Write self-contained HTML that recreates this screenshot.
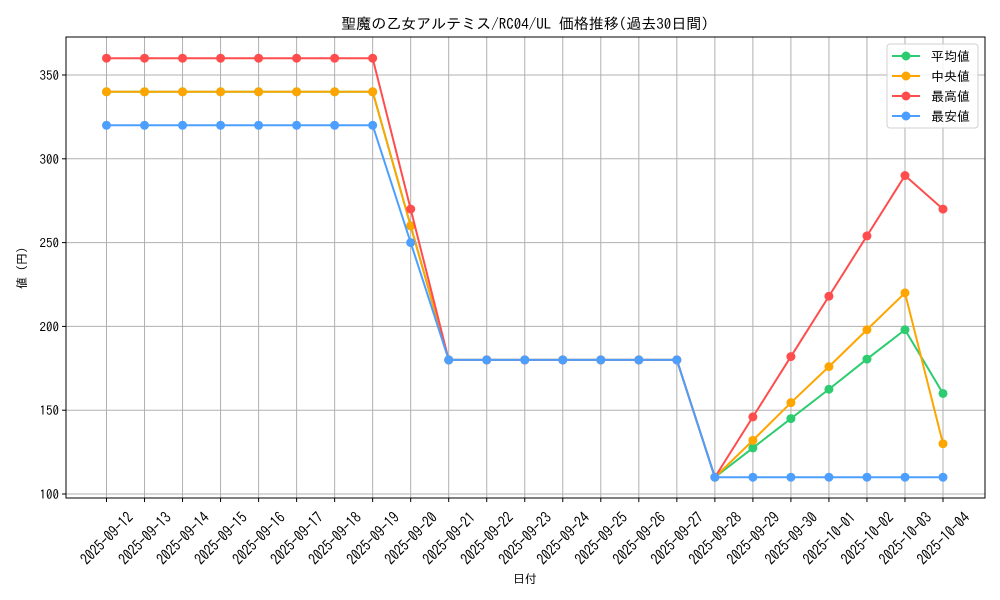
<!DOCTYPE html>
<html><head><meta charset="utf-8"><style>
body{margin:0;background:#fff;}
svg{display:block;font-family:"IPAGothic","Noto Sans CJK JP",sans-serif;}
</style></head><body>
<svg id="chart" width="1000" height="600"></svg>
<script>
const dates=["2025-09-12","2025-09-13","2025-09-14","2025-09-15","2025-09-16","2025-09-17","2025-09-18","2025-09-19","2025-09-20","2025-09-21","2025-09-22","2025-09-23","2025-09-24","2025-09-25","2025-09-26","2025-09-27","2025-09-28","2025-09-29","2025-09-30","2025-10-01","2025-10-02","2025-10-03","2025-10-04"];
const avgVals=[340,340,340,340,340,340,340,340,260,180,180,180,180,180,180,180,110,127.5,145,162.5,180.5,198,160];
const medVals=[340,340,340,340,340,340,340,340,260,180,180,180,180,180,180,180,110,132,154.5,176,198,220,130];
const maxVals=[360,360,360,360,360,360,360,360,270,180,180,180,180,180,180,180,110,146,182,218,254,290,270];
const minVals=[320,320,320,320,320,320,320,320,250,180,180,180,180,180,180,180,110,110,110,110,110,110,110];
const yTicks=[100,150,200,250,300,350];
const seriesNames=["平均値","中央値","最高値","最安値"];
const seriesColors=["#2ecc71","#ffa500","#ff4d4d","#4d9fff"];

const NS="http://www.w3.org/2000/svg";
const svg=document.getElementById('chart');
const L=66,R=985,T=37,B=498;
const x0=106.5,dx=(943-106.5)/22;
function xs(i){return x0+i*dx;}
function ys(v){return 494-(v-100)*(419/250);}
function mk(tag,attrs,parent){const e=document.createElementNS(NS,tag);for(const k in attrs)e.setAttribute(k,attrs[k]);(parent||svg).appendChild(e);return e;}

const grid=mk('g',{});


dates.forEach((d,i)=>{mk('line',{x1:xs(i),x2:xs(i),y1:T,y2:B,stroke:'#b0b0b0','stroke-width':1},grid);});
yTicks.forEach(v=>{mk('line',{x1:L,x2:R,y1:ys(v),y2:ys(v),stroke:'#b0b0b0','stroke-width':1},grid);});

const xa=mk('g',{});


dates.forEach((d,i)=>{
  mk('line',{x1:xs(i),x2:xs(i),y1:B,y2:B+4,stroke:'#000'},xa);
  const t=mk('text',{x:0,y:0,'font-size':14,'text-anchor':'middle','dominant-baseline':'central',transform:`translate(${xs(i)} 538) rotate(-45) scale(0.95 1.1)`},xa);
  t.textContent=d;
  
  
});
const ya=mk('g',{});


yTicks.forEach(v=>{
  mk('line',{x1:L-4,x2:L,y1:ys(v),y2:ys(v),stroke:'#000'},ya);
  const t=mk('text',{x:L-7,y:ys(v)+5,'font-size':13,'text-anchor':'end'},ya);
  t.textContent=v;
  
  
});

[avgVals,medVals,maxVals,minVals].forEach((vals,si)=>{
  const g=mk('g',{});
  
  
  mk('polyline',{points:vals.map((v,i)=>xs(i)+','+ys(v)).join(' '),fill:'none',stroke:seriesColors[si],'stroke-width':2},g);
  vals.forEach((v,i)=>{
    const c=mk('circle',{cx:xs(i),cy:ys(v),r:4.5,fill:seriesColors[si]},g);
    
    
  });
});

mk('rect',{x:L,y:T,width:R-L,height:B-T,fill:'none',stroke:'#000','stroke-width':1});

const lg=mk('g',{});


mk('rect',{x:887,y:44,width:91,height:84,rx:3,fill:'#fff','fill-opacity':0.85,stroke:'#d0d0d0'},lg);
seriesNames.forEach((n,i)=>{
  const y=56+i*20;
  const e=mk('g',{},lg);
  
  
  mk('line',{x1:892,x2:920,y1:y,y2:y,stroke:seriesColors[i],'stroke-width':2},e);
  mk('circle',{cx:906,cy:y,r:4.5,fill:seriesColors[i]},e);
  const t=mk('text',{x:931,y:y+5,'font-size':13},e);
  t.textContent=n;
});

const title=mk('text',{x:525,y:29,'font-size':15,'text-anchor':'middle'});
title.textContent='聖魔の乙女アルテミス/RC04/UL 価格推移(過去30日間)';


const xt=mk('text',{x:525,y:583,'font-size':12,'text-anchor':'middle'});
xt.textContent='日付';


const yt=mk('text',{x:26,y:268,'font-size':12,'text-anchor':'middle',transform:'rotate(-90 26 268)'});
yt.textContent='値 (円)';


</script>
</body></html>
